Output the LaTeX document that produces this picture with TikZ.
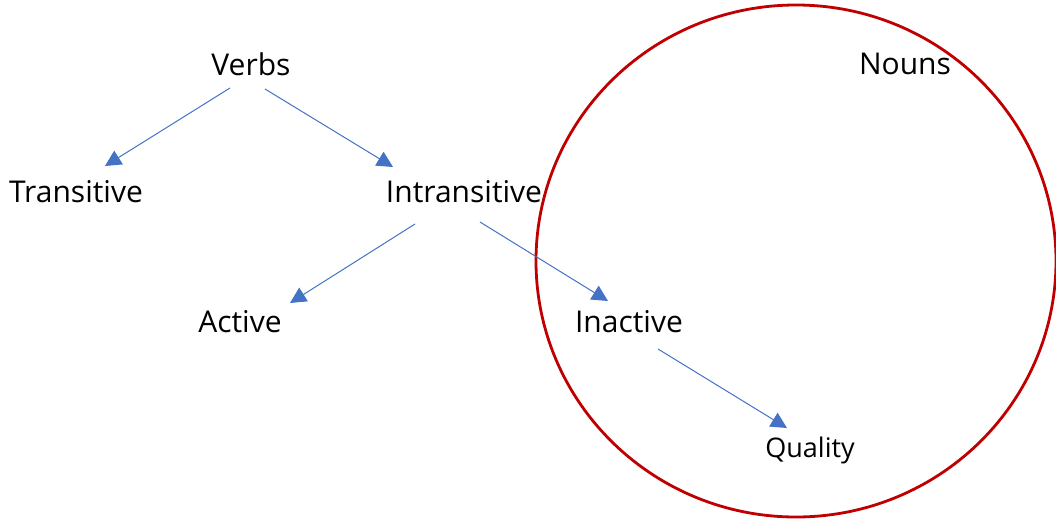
\documentclass[tikz,border=0pt]{standalone}
\usepackage{fontspec}
\setmainfont{Open Sans}
\usetikzlibrary{arrows.meta}
\definecolor{arrowblue}{HTML}{4472C4}
\definecolor{ringred}{HTML}{C00000}
\begin{document}
\begin{tikzpicture}[x=1pt,y=-1pt,
  lbl/.style={font=\fontsize{30}{36}\selectfont, inner sep=0pt, text=black},
  small/.style={font=\fontsize{27}{32}\selectfont},
  link/.style={draw=arrowblue, line width=1pt, -{Triangle[length=16pt,width=16pt]}, arrowblue}]
\useasboundingbox (0,0) rectangle (1056,519);
\draw[ringred, line width=2.8pt] (796,261) ellipse (260 and 256);
\node[lbl] (verbs) at (251,64) {Verbs};
\node[lbl] (trans) at (76,192) {Transitive};
\node[lbl] (intrans) at (464,192) {Intransitive};
\node[lbl] (active) at (240,322) {Active};
\node[lbl] (inactive) at (629,322) {Inactive};
\node[lbl, small] (quality) at (810,450) {Quality};
\node[lbl] (nouns) at (905,64) {Nouns};
\coordinate (v1) at (230,88);
\coordinate (v2) at (265,89);
\coordinate (t1) at (105,166);
\coordinate (t2) at (393,167);
\coordinate (i1) at (415,224);
\coordinate (i2) at (480,222);
\coordinate (a1) at (290,303);
\coordinate (a2) at (608,301);
\coordinate (n1) at (658,349);
\coordinate (q1) at (787,428);
\draw[link] (v1) -- (t1);
\draw[link] (v2) -- (t2);
\draw[link] (i1) -- (a1);
\draw[link] (i2) -- (a2);
\draw[link] (n1) -- (q1);
\end{tikzpicture}
\end{document}
